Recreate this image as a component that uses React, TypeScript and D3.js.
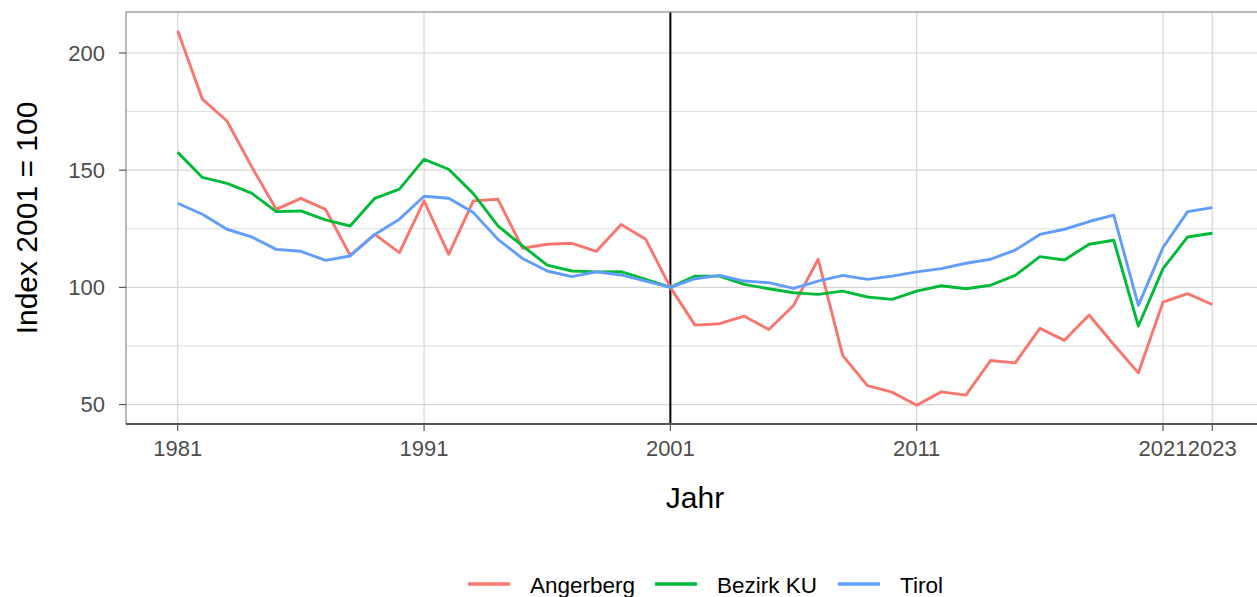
import React, { useEffect, useRef } from 'react'
import * as d3 from 'd3'

const years = d3.range(1981, 2024)

const angerberg = [209.5, 180.3, 171.0, 151.5, 133.3, 138.0, 133.3, 113.7, 122.6, 114.8,
  136.9, 114.1, 136.9, 137.6, 116.7, 118.4, 118.8, 115.4, 126.8, 120.5,
  100.0, 83.9, 84.5, 87.7, 82.0, 92.3, 112.0, 70.9, 58.1, 55.3,
  49.7, 55.4, 54.0, 68.8, 67.8, 82.5, 77.4, 88.2, 75.6, 63.5,
  93.7, 97.3, 92.7]

const bezirkKU = [157.6, 146.9, 144.4, 140.2, 132.3, 132.6, 128.8, 126.2, 138.0, 141.9,
  154.6, 150.4, 140.0, 126.2, 117.7, 109.5, 107.0, 106.6, 106.7, 103.4,
  100.0, 104.8, 104.8, 101.3, 99.4, 97.7, 97.0, 98.4, 95.9, 94.9,
  98.4, 100.7, 99.4, 100.9, 105.1, 113.1, 111.7, 118.4, 120.1, 83.5,
  108.0, 121.5, 123.1]

const tirol = [135.9, 131.2, 124.8, 121.5, 116.2, 115.4, 111.5, 113.4, 122.6, 129.1,
  138.9, 138.0, 131.9, 120.5, 112.3, 107.0, 104.6, 106.6, 105.3, 102.7,
  100.0, 103.7, 105.1, 102.7, 102.0, 99.6, 102.7, 105.1, 103.4, 104.8,
  106.6, 108.0, 110.3, 112.0, 115.9, 122.6, 124.8, 128.1, 130.8, 92.3,
  117.0, 132.3, 134.0]

const seriesNames = ['Angerberg', 'Bezirk KU', 'Tirol']
const seriesColors = ['#F8766D', '#00BA38', '#619CFF']
const xBreaks = [1981, 1991, 2001, 2011, 2021, 2023]
const yBreaks = [50, 100, 150, 200]
const yMinor = [75, 125, 175]

export default function App() {
  const node = useRef<SVGSVGElement>(null)

  useEffect(() => {
    document.body.style.margin = '0'
    const width = 1257, height = 597
    const left = 126, right = 1264, top = 12, bottom = 424
    const font = '"Liberation Sans", Arial, sans-serif'

    const svg = d3.select(node.current)
    svg.selectAll('*').remove()
    svg.attr('width', width).attr('height', height)

    const x = d3.scaleLinear().domain([1981 - 2.1, 2023 + 2.1]).range([left, right])
    const y = d3.scaleLinear().domain([41.7, 217.5]).range([bottom, top])

    // grid
    const grid = svg.append('g')
    grid.selectAll('line.minor').data(yMinor).enter().append('line')
      .attr('x1', left).attr('x2', right)
      .attr('y1', d => y(d)).attr('y2', d => y(d))
      .attr('stroke', '#dedede').attr('stroke-width', 1)
    grid.selectAll('line.major').data(yBreaks).enter().append('line')
      .attr('x1', left).attr('x2', right)
      .attr('y1', d => y(d)).attr('y2', d => y(d))
      .attr('stroke', '#d6d6d6').attr('stroke-width', 1.2)
    grid.selectAll('line.vx').data(xBreaks).enter().append('line')
      .attr('x1', d => x(d)).attr('x2', d => x(d))
      .attr('y1', top).attr('y2', bottom)
      .attr('stroke', '#d6d6d6').attr('stroke-width', 1.2)

    // reference line at 2001
    svg.append('line')
      .attr('x1', x(2001)).attr('x2', x(2001))
      .attr('y1', top).attr('y2', bottom)
      .attr('stroke', 'black').attr('stroke-width', 2)

    // series
    const all = [angerberg, bezirkKU, tirol]
    const line = d3.line<number>().x((d, i) => x(years[i])).y(d => y(d))
    all.forEach((vals, k) => {
      svg.append('path')
        .datum(vals)
        .attr('d', line)
        .attr('fill', 'none')
        .attr('stroke', seriesColors[k])
        .attr('stroke-width', 2.9)
        .attr('stroke-linejoin', 'round')
    })

    // panel border
    svg.append('rect')
      .attr('x', left).attr('y', top)
      .attr('width', right - left).attr('height', bottom - top)
      .attr('fill', 'none').attr('stroke', '#8a8a8a').attr('stroke-width', 1.2)
    svg.append('line')
      .attr('x1', left).attr('x2', right).attr('y1', bottom).attr('y2', bottom)
      .attr('stroke', '#555').attr('stroke-width', 2)

    // axes
    const yAxis = svg.append('g')
    yAxis.selectAll('line').data(yBreaks).enter().append('line')
      .attr('x1', left - 7).attr('x2', left)
      .attr('y1', d => y(d)).attr('y2', d => y(d))
      .attr('stroke', '#555').attr('stroke-width', 1.2)
    yAxis.selectAll('text').data(yBreaks).enter().append('text')
      .attr('x', left - 21).attr('y', d => y(d))
      .attr('dy', '0.36em').attr('text-anchor', 'end')
      .attr('font-family', font).attr('font-size', 22).attr('fill', '#4d4d4d')
      .text(d => d)

    const xAxis = svg.append('g')
    xAxis.selectAll('line').data(xBreaks).enter().append('line')
      .attr('x1', d => x(d)).attr('x2', d => x(d))
      .attr('y1', bottom).attr('y2', bottom + 7)
      .attr('stroke', '#555').attr('stroke-width', 1.2)
    xAxis.selectAll('text').data(xBreaks).enter().append('text')
      .attr('x', d => x(d)).attr('y', 456)
      .attr('text-anchor', 'middle')
      .attr('font-family', font).attr('font-size', 22).attr('fill', '#4d4d4d')
      .text(d => d)

    // titles
    svg.append('text')
      .attr('x', (left + right) / 2).attr('y', 508)
      .attr('text-anchor', 'middle')
      .attr('font-family', font).attr('font-size', 30).attr('fill', 'black')
      .text('Jahr')
    svg.append('text')
      .attr('transform', 'translate(37,' + ((top + bottom) / 2) + ') rotate(-90)')
      .attr('text-anchor', 'middle')
      .attr('font-family', font).attr('font-size', 30).attr('fill', 'black')
      .text('Index 2001 = 100')

    // legend
    const legendX = [468, 655, 838]
    const legend = svg.append('g')
    seriesNames.forEach((name, k) => {
      legend.append('line')
        .attr('x1', legendX[k]).attr('x2', legendX[k] + 42)
        .attr('y1', 584).attr('y2', 584)
        .attr('stroke', seriesColors[k]).attr('stroke-width', 3.5)
      legend.append('text')
        .attr('x', legendX[k] + 62).attr('y', 593)
        .attr('font-family', font).attr('font-size', 22.5).attr('fill', 'black')
        .text(name)
    })
  }, [])

  return <svg ref={node}></svg>
}
